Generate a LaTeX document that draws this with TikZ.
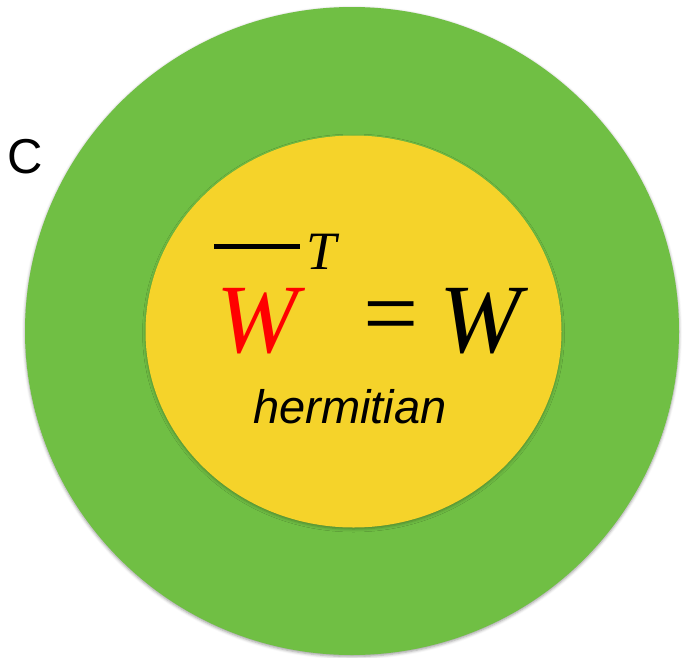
\documentclass[tikz,border=0pt]{standalone}
\usepackage{fontspec}
\setmainfont{Liberation Serif}
\newfontfamily\hsans{Liberation Sans}
\usetikzlibrary{shadows.blur}
\definecolor{ogreen}{RGB}{112,191,68}
\definecolor{iyellow}{RGB}{245,211,42}
\begin{document}
\begin{tikzpicture}[x=1pt,y=-1pt,
  txt/.style={inner sep=0pt, outer sep=0pt},
  bigmath/.style={txt, font=\fontsize{98}{98}\selectfont\itshape},
]
\useasboundingbox (0,0) rectangle (686,657);
\fill[ogreen, blur shadow={shadow xshift=0pt, shadow yshift=-1.5pt, shadow blur radius=3pt, shadow opacity=40}] (352,331) ellipse [x radius=327, y radius=324];
\fill[iyellow, blur shadow={shadow xshift=0pt, shadow yshift=-1.5pt, shadow blur radius=3pt, shadow opacity=30}] (353.5,331.5) ellipse [x radius=208, y radius=196];
\node[txt, anchor=base, font=\hsans\fontsize{49}{49}\selectfont] (c) at (25.5,173) {C};
\node[bigmath, text=red, anchor=base] (w1) at (257.5,352) {W};
\node[txt, anchor=base, font=\fontsize{54}{54}\selectfont\itshape] (t) at (322,269) {T};
\coordinate (barl) at (214,246);
\coordinate (barr) at (300,246);
\draw[line width=5pt] (barl) -- (barr);
\node[txt, font=\fontsize{98}{98}\selectfont] (eq) at (391,324.5) {=};
\node[bigmath, anchor=base] (w2) at (480,352) {W};
\node[txt, anchor=base, font=\hsans\fontsize{47}{47}\selectfont\itshape] (h) at (350,423) {hermitian};
\end{tikzpicture}
\end{document}
